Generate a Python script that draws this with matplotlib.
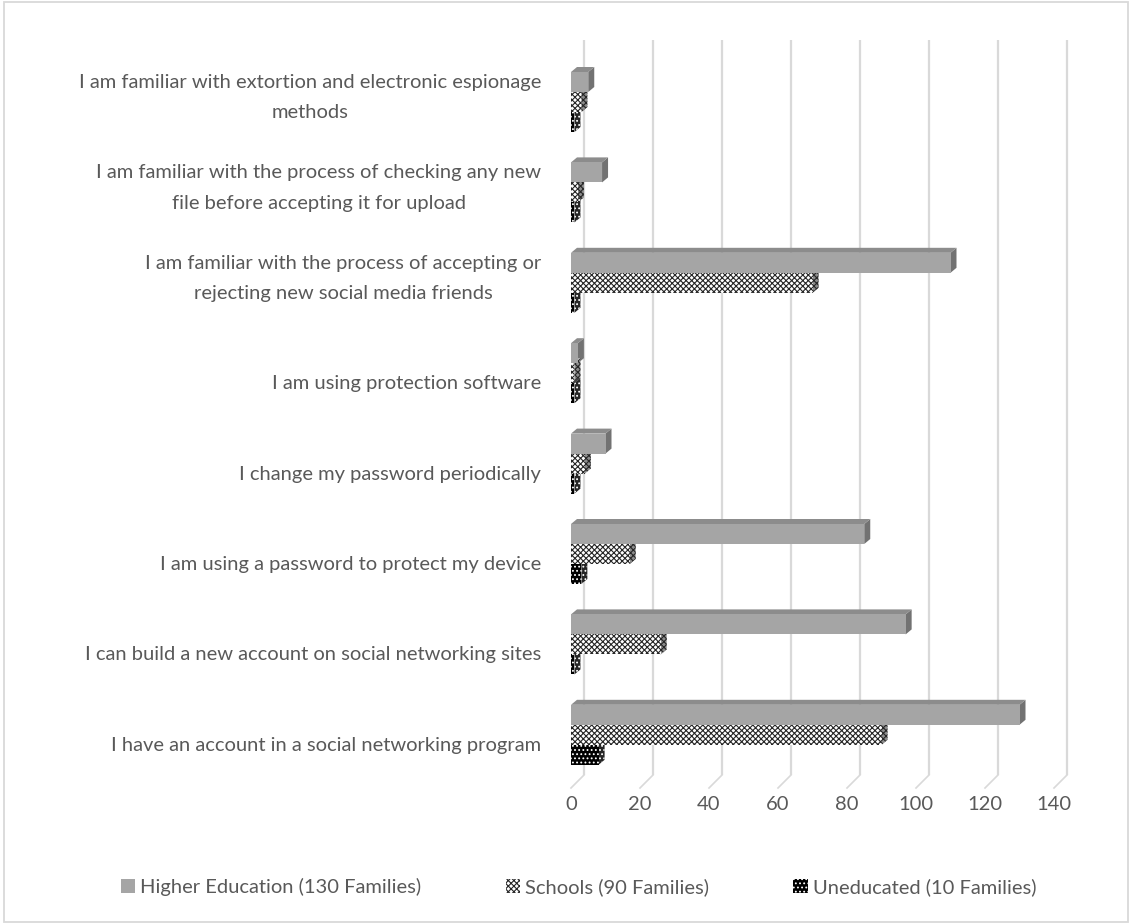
import matplotlib
matplotlib.use('Agg')
import matplotlib.pyplot as plt
from matplotlib.patches import Polygon, Rectangle, Patch
import numpy as np

plt.rcParams['font.family'] = ['Lato', 'DejaVu Sans']
plt.rcParams['hatch.linewidth'] = 0.8

categories = [
    'I am familiar with extortion and electronic espionage\nmethods',
    'I am familiar with the process of checking any new\nfile before accepting it for upload',
    'I am familiar with the process of accepting or\nrejecting new social media friends',
    'I am using protection software',
    'I change my password periodically',
    'I am using a password to protect my device',
    'I can build a new account on social networking sites',
    'I have an account in a social networking program',
]
higher = [5, 9, 110, 2, 10, 85, 97, 130]
schools = [3, 2, 70, 1, 4, 17, 26, 90]
uneducated = [1, 1, 1, 1, 1, 3, 1, 8]
series_names = ['Higher Education (130 Families)', 'Schools (90 Families)', 'Uneducated (10 Families)']
xticks = [0, 20, 40, 60, 80, 100, 120, 140]

text_col = '#595959'
grid_col = '#d9d9d9'

fig = plt.figure(figsize=(11.32, 9.24), dpi=100)
W, H = 1132, 924
# axes placed in pixels
left, right, top, bottom = 555, 1100, 30, 790
ax = fig.add_axes([left / W, 1 - bottom / H, (right - left) / W, (bottom - top) / H])

px = 3.45          # pixels per unit on x
x0 = 571           # pixel of front zero
gap = 90.4         # pixels between groups
c0 = 102           # pixel of first group centre
ax.set_xlim((left - x0) / px, (right - x0) / px)
ax.set_ylim((bottom - c0) / gap, (top - c0) / gap)

bh = 20 / gap      # bar height
dx, dy = 6 / px, 5 / gap        # depth of bars
bdx, bdy = 13 / px, 13 / gap    # depth of back wall

# gridlines on the back wall with floor slant
g_top = (40 - c0) / gap
g_bot = (775 - c0) / gap
for v in xticks:
    ax.plot([v + bdx, v + bdx], [g_top, g_bot], color=grid_col, lw=1.6, zorder=0, solid_capstyle='butt')
    ax.plot([v + bdx, v], [g_bot, g_bot + bdy], color=grid_col, lw=1.2, zorder=0, clip_on=False)

styles = [
    dict(fc='#a5a5a5', ec='#a5a5a5', hatch=None, top='#8c8c8c', side='#727272'),
    dict(fc='white', ec='#262626', hatch='xxxxxx', top='#bfbfbf', side='#8c8c8c'),
    dict(fc='black', ec='white', hatch='....', top='#404040', side='#262626'),
]
data = [higher, schools, uneducated]

# draw lowest series first so upper bars cover top faces
for s in [2, 1, 0]:
    st = styles[s]
    for k, v in enumerate(data[s]):
        yc = k + (s - 1) * bh
        yt, yb = yc - bh / 2, yc + bh / 2
        side = Polygon([(v, yt), (v + dx, yt - dy), (v + dx, yb - dy), (v, yb)],
                       closed=True, fc=st['side'], ec=st['ec'] if st['hatch'] else st['side'],
                       hatch=st['hatch'], lw=0, zorder=2 + s * 0.1)
        topf = Polygon([(0, yt), (v, yt), (v + dx, yt - dy), (dx, yt - dy)],
                       closed=True, fc=st['top'], lw=0, zorder=2 + s * 0.1)
        front = Rectangle((0, yt), v, bh, fc=st['fc'], ec=st['ec'], hatch=st['hatch'],
                          lw=0, zorder=3 + s * 0.1)
        ax.add_patch(side)
        ax.add_patch(topf)
        ax.add_patch(front)

ax.set_xticks(xticks)
ax.set_xticklabels([str(t) for t in xticks])
# two-line labels sit a little higher, as in the source
ypos = [k + 0.1 - 0.24 * c.count('\n') for k, c in enumerate(categories)]
ax.set_yticks(ypos)
ax.set_yticklabels(categories)
for lab in ax.get_yticklabels():
    lab.set_multialignment('center')
    lab.set_linespacing(1.95)
ax.tick_params(axis='both', length=0, colors=text_col, labelsize=14.5)
ax.tick_params(axis='y', pad=10)
ax.tick_params(axis='x', pad=4)
for sp in ax.spines.values():
    sp.set_visible(False)
ax.set_facecolor('none')

handles = [Patch(fc=styles[i]['fc'], ec=styles[i]['ec'], hatch=styles[i]['hatch'], lw=0)
           for i in range(3)]
fig.legend(handles, series_names, loc='center', bbox_to_anchor=(0.511, 1 - 887 / H),
           ncol=3, frameon=False, fontsize=14.5, labelcolor=text_col,
           handlelength=0.7, handleheight=0.7, handletextpad=0.25, columnspacing=4.2)

fig.patches.append(Rectangle((4 / W, 2 / H), 1 - 8 / W, 1 - 4 / H, transform=fig.transFigure,
                             fill=False, ec=grid_col, lw=1.3))

fig.savefig('out.png', dpi=100)
